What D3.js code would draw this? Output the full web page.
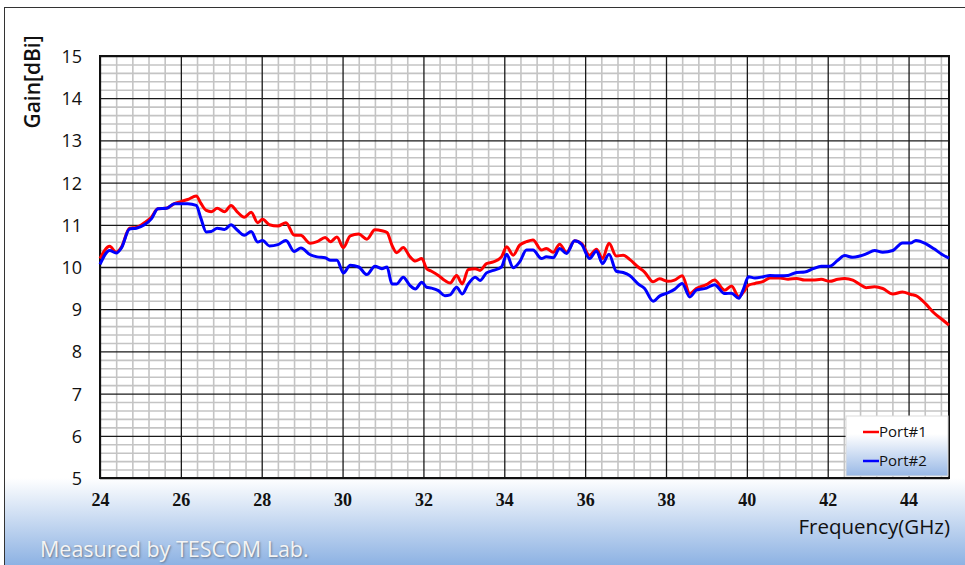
<!DOCTYPE html>
<html>
<head>
<meta charset="utf-8">
<script src="https://cdn.jsdelivr.net/npm/d3@7"></script>
<style>
  html, body { margin: 0; padding: 0; background: #fff; }
  svg { display: block; }
  .ytick text { font-family: "Open Sans", sans-serif; font-size: 18px; fill: #111; }
  .xtick text { font-family: "Liberation Serif", serif; font-weight: bold; font-size: 18px; fill: #111; }
</style>
</head>
<body>
<div id="chart"></div>
<script>
// Gain vs frequency, two ports.
const freqGHz = [
  24.0, 24.24, 24.4, 24.53, 24.73, 24.9, 25.1, 25.27, 25.43, 25.64, 25.84,
  26.0, 26.17, 26.38, 26.5, 26.63, 26.75, 26.9, 27.08, 27.24, 27.4, 27.57, 27.74, 27.9,
  28.02, 28.19, 28.4, 28.6, 28.8, 28.97, 29.2, 29.37, 29.57, 29.7, 29.86,
  30.02, 30.19, 30.4, 30.6, 30.8, 30.97, 31.1, 31.22, 31.34, 31.5, 31.67, 31.8, 31.96,
  32.08, 32.2, 32.37, 32.53, 32.66, 32.82, 32.96, 33.11, 33.28, 33.4, 33.56, 33.73, 33.93,
  34.06, 34.22, 34.38, 34.55, 34.71, 34.92, 35.04, 35.21, 35.37, 35.54, 35.74, 35.91,
  36.11, 36.28, 36.43, 36.59, 36.77, 36.94, 37.1, 37.31, 37.47, 37.68, 37.84,
  38.05, 38.21, 38.4, 38.59, 38.75, 39.0, 39.2, 39.45, 39.62, 39.8, 39.92,
  40.04, 40.2, 40.41, 40.57, 40.82, 41.02, 41.23, 41.43, 41.64, 41.84,
  42.05, 42.25, 42.42, 42.62, 42.79, 42.95, 43.16, 43.36, 43.61, 43.85,
  44.06, 44.18, 44.43, 44.63, 44.84, 45.0
];

const port1Gain = [
  10.20, 10.49, 10.35, 10.47, 10.92, 10.94, 11.05, 11.18, 11.38, 11.39, 11.50,
  11.55, 11.60, 11.68, 11.50, 11.34, 11.31, 11.39, 11.31, 11.46, 11.30, 11.18, 11.30, 11.05,
  11.13, 11.00, 10.97, 11.05, 10.76, 10.75, 10.56, 10.60, 10.70, 10.60, 10.71,
  10.46, 10.74, 10.78, 10.66, 10.88, 10.86, 10.82, 10.52, 10.34, 10.46, 10.24, 10.14, 10.20,
  9.96, 9.90, 9.80, 9.68, 9.62, 9.80, 9.60, 9.94, 9.96, 9.92, 10.08, 10.12, 10.24,
  10.48, 10.28, 10.52, 10.60, 10.64, 10.40, 10.44, 10.35, 10.54, 10.35, 10.62, 10.56,
  10.28, 10.42, 10.20, 10.56, 10.26, 10.28, 10.18, 10.00, 9.88, 9.65, 9.72,
  9.66, 9.69, 9.79, 9.37, 9.49, 9.58, 9.69, 9.45, 9.55, 9.30, 9.41,
  9.57, 9.61, 9.66, 9.74, 9.74, 9.71, 9.73, 9.69, 9.69, 9.71,
  9.66, 9.71, 9.73, 9.69, 9.59, 9.51, 9.53, 9.49, 9.36, 9.41,
  9.35, 9.32, 9.12, 8.91, 8.75, 8.62
];

const port2Gain = [
  10.06, 10.39, 10.33, 10.45, 10.90, 10.92, 11.00, 11.14, 11.38, 11.39, 11.50,
  11.50, 11.50, 11.46, 11.14, 10.83, 10.84, 10.92, 10.89, 11.00, 10.87, 10.75, 10.84, 10.59,
  10.63, 10.50, 10.53, 10.63, 10.37, 10.45, 10.29, 10.24, 10.22, 10.16, 10.16,
  9.86, 10.04, 10.00, 9.82, 10.02, 9.96, 10.00, 9.60, 9.60, 9.76, 9.56, 9.48, 9.64,
  9.52, 9.50, 9.44, 9.32, 9.34, 9.52, 9.36, 9.60, 9.76, 9.68, 9.86, 9.92, 10.00,
  10.30, 9.98, 10.12, 10.40, 10.40, 10.20, 10.24, 10.22, 10.44, 10.32, 10.62, 10.54,
  10.20, 10.38, 10.08, 10.30, 9.90, 9.87, 9.80, 9.60, 9.49, 9.19, 9.31,
  9.39, 9.47, 9.61, 9.29, 9.45, 9.50, 9.58, 9.37, 9.38, 9.26, 9.49,
  9.77, 9.74, 9.77, 9.80, 9.79, 9.80, 9.87, 9.88, 9.96, 10.02,
  10.02, 10.16, 10.27, 10.23, 10.26, 10.31, 10.39, 10.35, 10.39, 10.57,
  10.57, 10.63, 10.55, 10.43, 10.29, 10.21
];

const xTicks = [24, 26, 28, 30, 32, 34, 36, 38, 40, 42, 44];
const yTicks = [5, 6, 7, 8, 9, 10, 11, 12, 13, 14, 15];

const series = [
  { name: 'Port#1', values: port1Gain, color: '#ff0000' },
  { name: 'Port#2', values: port2Gain, color: '#0000ff' }
];

const W = 965, H = 565;
const plot = { left: 100, top: 56, right: 949, bottom: 478 };

const svg = d3.select('#chart').append('svg')
  .attr('width', W).attr('height', H);

const defs = svg.append('defs');
// background gradient in page coordinates: white down to the axis labels, blue at the bottom
const bgGrad = defs.append('linearGradient')
  .attr('id', 'bg').attr('gradientUnits', 'userSpaceOnUse')
  .attr('x1', 0).attr('y1', 478).attr('x2', 0).attr('y2', 565);
bgGrad.append('stop').attr('offset', '0%').attr('stop-color', '#ffffff');
bgGrad.append('stop').attr('offset', '100%').attr('stop-color', '#8db2e3');

const legGrad = defs.append('linearGradient')
  .attr('id', 'leg').attr('x1', 0).attr('y1', 0).attr('x2', 0).attr('y2', 1);
legGrad.append('stop').attr('offset', '0%').attr('stop-color', '#ffffff');
legGrad.append('stop').attr('offset', '30%').attr('stop-color', '#ffffff');
legGrad.append('stop').attr('offset', '100%').attr('stop-color', '#98b8e6');

// chart area frame
svg.append('rect')
  .attr('x', 4.5).attr('y', 7.5).attr('width', W).attr('height', H)
  .attr('fill', 'url(#bg)').attr('stroke', '#333').attr('stroke-width', 1);

const x = d3.scaleLinear().domain([24, 45]).range([plot.left, plot.right]);
const y = d3.scaleLinear().domain([5, 15]).range([plot.bottom, plot.top]);

const innerW = plot.right - plot.left;
const innerH = plot.bottom - plot.top;

svg.append('rect')
  .attr('x', plot.left).attr('y', plot.top)
  .attr('width', innerW).attr('height', innerH)
  .attr('fill', '#fff');

// minor grid
const xMinor = d3.range(24, 45.001, 0.4).filter(v => Math.abs(v / 2 - Math.round(v / 2)) > 0.01);
const yMinor = d3.range(5, 15.001, 0.2).filter(v => Math.abs(v - Math.round(v)) > 0.01);

const gridG = svg.append('g');
gridG.append('g').attr('transform', `translate(0,${plot.bottom})`)
  .call(d3.axisBottom(x).tickValues(xMinor).tickSize(-innerH).tickFormat(''))
  .call(g => g.select('.domain').remove())
  .call(g => g.selectAll('line').attr('stroke', '#c4c4c4').attr('stroke-width', 1.6));
gridG.append('g').attr('transform', `translate(${plot.left},0)`)
  .call(d3.axisLeft(y).tickValues(yMinor).tickSize(-innerW).tickFormat(''))
  .call(g => g.select('.domain').remove())
  .call(g => g.selectAll('line').attr('stroke', '#c4c4c4').attr('stroke-width', 1.6));

// major grid
gridG.append('g').attr('transform', `translate(0,${plot.bottom})`)
  .call(d3.axisBottom(x).tickValues(xTicks).tickSize(-innerH).tickFormat(''))
  .call(g => g.select('.domain').remove())
  .call(g => g.selectAll('line').attr('stroke', '#1a1a1a').attr('stroke-width', 1.3));
gridG.append('g').attr('transform', `translate(${plot.left},0)`)
  .call(d3.axisLeft(y).tickValues(yTicks).tickSize(-innerW).tickFormat(''))
  .call(g => g.select('.domain').remove())
  .call(g => g.selectAll('line').attr('stroke', '#1a1a1a').attr('stroke-width', 1.3));

// plot border
svg.append('rect')
  .attr('x', plot.left).attr('y', plot.top)
  .attr('width', innerW).attr('height', innerH)
  .attr('fill', 'none').attr('stroke', '#111').attr('stroke-width', 2);

// tick labels
svg.append('g').attr('class', 'ytick')
  .attr('transform', `translate(82,0)`)
  .call(d3.axisLeft(y).tickValues(yTicks).tickSize(0).tickPadding(0).tickFormat(d3.format('d')))
  .call(g => g.select('.domain').remove())
  .call(g => g.selectAll('text').attr('dy', '0.36em'));

svg.append('g').attr('class', 'xtick')
  .attr('transform', `translate(0,489)`)
  .call(d3.axisBottom(x).tickValues(xTicks).tickSize(0).tickPadding(0).tickFormat(d3.format('d')))
  .call(g => g.select('.domain').remove())
  .call(g => g.selectAll('text').attr('dy', '0.95em'));

// axis titles
svg.append('text')
  .attr('transform', 'translate(40,82) rotate(-90)')
  .attr('text-anchor', 'middle')
  .style('font-family', '"Open Sans", sans-serif')
  .style('font-weight', 600).style('font-size', '21px').attr('fill', '#111')
  .text('Gain[dBi]');

svg.append('text')
  .attr('x', 950).attr('y', 534).attr('text-anchor', 'end')
  .style('font-family', '"Open Sans", sans-serif')
  .style('font-size', '20.5px').attr('fill', '#111')
  .text('Frequency(GHz)');

svg.append('text')
  .attr('x', 40).attr('y', 557)
  .style('font-family', '"Open Sans", sans-serif')
  .style('font-size', '21.5px').attr('fill', '#f4f4f4')
  .style('text-shadow', '1px 1px 2px rgba(60,60,60,0.5)')
  .text('Measured by TESCOM Lab.');

// curves
const line = d3.line()
  .x((d, i) => x(freqGHz[i]))
  .y(d => y(d))
  .curve(d3.curveMonotoneX);

svg.append('g').selectAll('path')
  .data(series)
  .join('path')
    .attr('d', s => line(s.values))
    .attr('fill', 'none')
    .attr('stroke', s => s.color)
    .attr('stroke-width', 3)
    .attr('stroke-linejoin', 'round');

// legend
const legend = svg.append('g').attr('transform', 'translate(846,416)');
legend.append('rect')
  .attr('width', 102).attr('height', 60)
  .attr('fill', 'url(#leg)').attr('stroke', '#dcdcdc');
const item = legend.selectAll('g.item')
  .data(series)
  .join('g').attr('class', 'item')
  .attr('transform', (d, i) => `translate(0,${16 + i * 29})`);
item.append('line')
  .attr('x1', 17).attr('x2', 33)
  .attr('stroke', d => d.color).attr('stroke-width', 2.5);
item.append('text')
  .attr('x', 33).attr('dy', '0.35em')
  .style('font-family', '"Open Sans", sans-serif')
  .style('font-size', '15px').attr('fill', '#111')
  .text(d => d.name);
</script>
</body>
</html>
